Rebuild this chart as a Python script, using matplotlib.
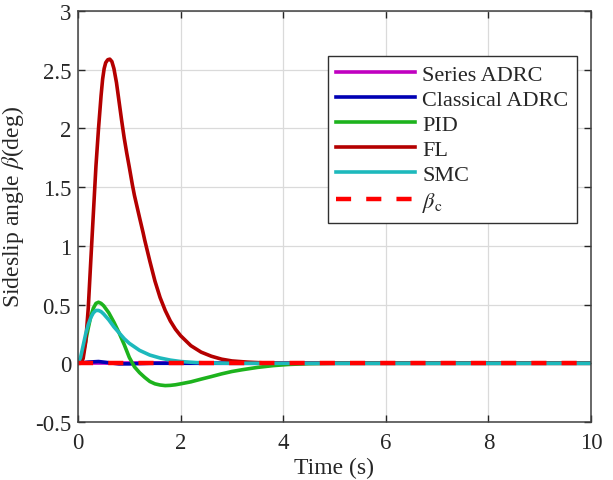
import numpy as np
import matplotlib
matplotlib.use("Agg")
import matplotlib.pyplot as plt

plt.rcParams['font.family'] = ['Liberation Serif', 'DejaVu Serif']
plt.rcParams['mathtext.fontset'] = 'stix'

# ---- data ----
t_series = [0, 10]
v_series = [0, 0]

t_classical = [0, 0.2, 0.4, 0.6, 0.8, 1.0, 1.4, 2.0, 10]
v_classical = [0, 0.01, 0.015, 0.005, -0.005, -0.005, 0.0, 0.0, 0.0]

t_pid = [0, 0.05, 0.1, 0.15, 0.2, 0.25, 0.3, 0.35, 0.4, 0.45, 0.5, 0.6, 0.7, 0.8, 0.9,
         1.0, 1.1, 1.2, 1.3, 1.4, 1.5, 1.6, 1.7, 1.8, 1.9, 2.0, 2.2, 2.4, 2.6, 2.8,
         3.0, 3.2, 3.5, 3.8, 4.1, 4.5, 5.0, 10]
v_pid = [0, 0.01, 0.08, 0.19, 0.30, 0.40, 0.47, 0.51, 0.52, 0.51, 0.49, 0.43, 0.35, 0.26, 0.16,
         0.05, -0.03, -0.08, -0.12, -0.155, -0.175, -0.185, -0.19, -0.188, -0.183, -0.175, -0.158,
         -0.135, -0.113, -0.09, -0.07, -0.055, -0.035, -0.02, -0.01, -0.003, 0, 0]

t_fl = [0, 0.05, 0.1, 0.15, 0.2, 0.25, 0.3, 0.35, 0.4, 0.45, 0.48, 0.51, 0.54, 0.58, 0.62,
        0.66, 0.70, 0.75, 0.80, 0.85, 0.9, 0.95, 1.0, 1.06, 1.1, 1.2, 1.27, 1.3, 1.4, 1.5,
        1.6, 1.7, 1.8, 1.9, 2.0, 2.2, 2.4, 2.6, 2.8, 3.0, 3.3, 3.6, 4.0, 10]
v_fl = [0, 0.0, 0.04, 0.18, 0.47, 0.88, 1.28, 1.68, 2.0, 2.28, 2.42, 2.51, 2.56, 2.585, 2.59,
        2.57, 2.51, 2.39, 2.23, 2.07, 1.92, 1.79, 1.67, 1.52, 1.43, 1.24, 1.11, 1.05, 0.87, 0.70,
        0.56, 0.45, 0.36, 0.29, 0.235, 0.15, 0.095, 0.06, 0.035, 0.02, 0.01, 0.004, 0, 0]

t_smc = [0, 0.05, 0.1, 0.15, 0.2, 0.25, 0.3, 0.35, 0.4, 0.45, 0.5, 0.6, 0.7, 0.8, 0.9,
         1.0, 1.1, 1.2, 1.3, 1.4, 1.6, 1.8, 2.0, 2.3, 2.6, 3.0, 10]
v_smc = [0, 0.05, 0.15, 0.25, 0.33, 0.39, 0.43, 0.45, 0.45, 0.44, 0.42, 0.37, 0.31, 0.26, 0.21,
         0.17, 0.14, 0.11, 0.09, 0.07, 0.045, 0.027, 0.015, 0.006, 0.002, 0, 0]

t_ref = [0, 10]
v_ref = [0, 0]

labels = ['Series ADRC', 'Classical ADRC', 'PID', 'FL', 'SMC', r'$\beta_\mathrm{c}$']
colors = ['#C000C0', '#0000B4', '#1DB31D', '#B40000', '#1DB9BC', '#FF0000']

xticks = [0, 2, 4, 6, 8, 10]
yticks = [-0.5, 0, 0.5, 1, 1.5, 2, 2.5, 3]

fig = plt.figure(figsize=(6.13, 4.81), dpi=100)
ax = fig.add_axes([78/613, 58/481, 513/613, 411/481])

lw = 2.6
ax.plot(t_series, v_series, color=colors[0], lw=lw, label=labels[0])
ax.plot(t_classical, v_classical, color=colors[1], lw=lw, label=labels[1])
ax.plot(t_pid, v_pid, color=colors[2], lw=lw, label=labels[2])
ax.plot(t_fl, v_fl, color=colors[3], lw=lw, label=labels[3])
ax.plot(t_smc, v_smc, color=colors[4], lw=lw, label=labels[4])
ax.plot(t_ref, v_ref, color=colors[5], lw=3.2, dashes=(3.4, 3.4), label=labels[5])

ax.set_xlim(0, 10)
ax.set_ylim(-0.5, 3)
ax.set_xticks(xticks)
ax.set_yticks(yticks)
ax.set_yticklabels(['-0.5', '0', '0.5', '1', '1.5', '2', '2.5', '3'])
ax.tick_params(direction='in', length=5, width=1, labelsize=16.5, top=True, right=True,
               colors='#262626', labelcolor='#262626')
ax.tick_params(axis='x', pad=7)
ax.tick_params(axis='y', pad=5)
ax.grid(True, color='#DADADA', lw=0.9)
for s in ax.spines.values():
    s.set_color('#404040')
    s.set_linewidth(1.1)

ax.set_xlabel('Time (s)', fontsize=17, color='#262626', labelpad=3)
ax.set_ylabel(r'Sideslip angle $\beta$(deg)', fontsize=17, color='#262626', labelpad=2)
ax.yaxis.set_label_coords(-0.102, 0.525)

leg = ax.legend(loc='upper right', bbox_to_anchor=(0.973, 0.891), fontsize=16,
                handlelength=3.55, handletextpad=0.3, labelspacing=0.2,
                borderpad=0.4, fancybox=False, framealpha=1, edgecolor='#303030',
                borderaxespad=0)
leg.get_frame().set_linewidth(1.0)
for txt in leg.get_texts():
    txt.set_color('#262626')

fig.savefig('out.png', dpi=100)
